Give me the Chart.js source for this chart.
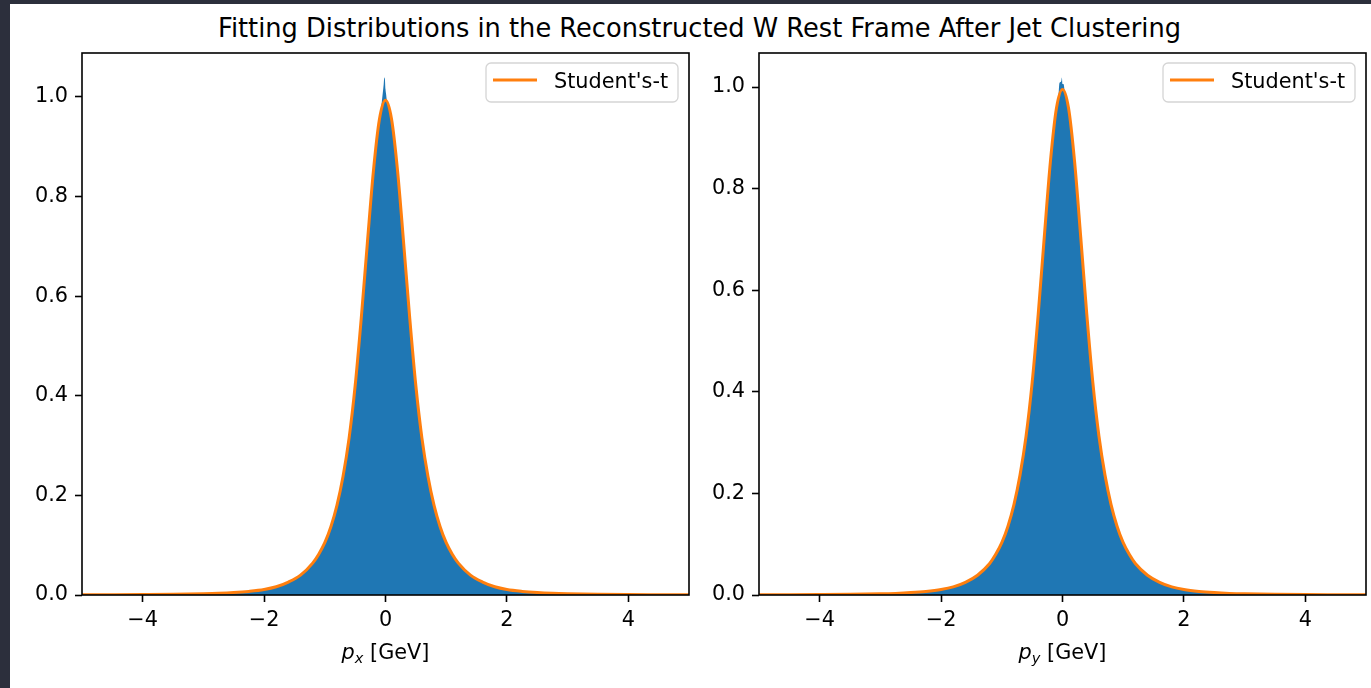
<!DOCTYPE html>
<html><head><meta charset="utf-8">
<script src="https://cdn.jsdelivr.net/npm/chart.js@4/dist/chart.umd.min.js"></script>
<style>
html,body{margin:0;padding:0;background:#fff;width:1371px;height:688px;overflow:hidden;font-family:'DejaVu Sans',sans-serif;}
.frame-l{position:absolute;left:0;top:0;width:10px;height:688px;background:#2c2f3c;z-index:5}
.frame-t{position:absolute;left:0;top:0;width:1371px;height:4px;background:#2c2f3c;z-index:5}
canvas{position:absolute;top:0}
#title{position:absolute;left:199.5px;width:1000px;top:16px;text-align:center;font-size:25.7px;line-height:25.7px;color:#000;white-space:nowrap}
.xlab{position:absolute;top:642px;width:300px;text-align:center;font-size:20.8px;line-height:20.8px;color:#000;white-space:nowrap}
.xlab i{font-style:italic}
.xlab sub{font-size:70%;font-style:italic;vertical-align:-0.3em;line-height:0}
</style></head><body>
<div class="frame-l"></div><div class="frame-t"></div>
<div id="title">Fitting Distributions in the Reconstructed W Rest Frame After Jet Clustering</div>
<canvas id="c1" width="700" height="688" style="left:0px"></canvas>
<canvas id="c2" width="681" height="688" style="left:690px"></canvas>
<div class="xlab" style="left:235.5px"><i>p</i><sub>x</sub> [GeV]</div>
<div class="xlab" style="left:912.5px"><i>p</i><sub>y</sub> [GeV]</div>
<script>
// ---- data ----
const xTicks = [-4, -2, 0, 2, 4];
const yTicks = [0, 0.2, 0.4, 0.6, 0.8, 1.0];
const fitLabel = "Student's-t";

const histX = [-5, -4.5, -4, -3.5, -3, -2.5, -2, -1.8, -1.6, -1.4, -1.2, -1.1, -1.0, -0.9, -0.8, -0.7, -0.6, -0.5, -0.4, -0.3, -0.2, -0.1,
  -0.07, -0.05, -0.03, -0.02, -0.01, 0, 0.01, 0.02, 0.04, 0.07,
  0.1, 0.2, 0.3, 0.4, 0.5, 0.6, 0.7, 0.8, 0.9, 1.0, 1.1, 1.2, 1.4, 1.6, 1.8, 2, 2.5, 3, 3.5, 4, 4.5, 5];
const histPx = [0.0003, 0.0004, 0.0007, 0.0012, 0.0023, 0.0046, 0.0105, 0.016, 0.025, 0.039, 0.063, 0.081, 0.104, 0.136, 0.179, 0.237, 0.313, 0.418, 0.553, 0.703, 0.848, 0.958,
  0.980, 1.002, 1.025, 1.039, 1.036, 1.015, 1.005, 0.995, 0.988, 0.975,
  0.953, 0.848, 0.703, 0.553, 0.418, 0.313, 0.237, 0.179, 0.136, 0.104, 0.081, 0.063, 0.039, 0.025, 0.016, 0.0105, 0.0046, 0.0023, 0.0012, 0.0007, 0.0004, 0.0003];
const histPy = [0.0003, 0.0004, 0.0007, 0.0012, 0.0023, 0.0045, 0.0103, 0.016, 0.025, 0.038, 0.062, 0.080, 0.103, 0.135, 0.178, 0.236, 0.312, 0.417, 0.552, 0.704, 0.851, 0.962,
  0.978, 1.008, 1.010, 1.012, 1.019, 1.006, 1.006, 1.005, 0.988, 0.975,
  0.956, 0.851, 0.704, 0.552, 0.417, 0.312, 0.236, 0.178, 0.135, 0.103, 0.080, 0.062, 0.038, 0.025, 0.016, 0.0103, 0.0045, 0.0023, 0.0012, 0.0007, 0.0004, 0.0003];

const fitX = [-5, -4.5, -4, -3.5, -3, -2.75, -2.5, -2.25, -2, -1.8, -1.6, -1.4, -1.2, -1.1, -1, -0.9, -0.8, -0.7, -0.6, -0.5, -0.4, -0.3, -0.2, -0.1, 0,
  0.1, 0.2, 0.3, 0.4, 0.5, 0.6, 0.7, 0.8, 0.9, 1, 1.1, 1.2, 1.4, 1.6, 1.8, 2, 2.25, 2.5, 2.75, 3, 3.5, 4, 4.5, 5];
const fitPx = [0.0003, 0.0005, 0.0008, 0.0013, 0.0024, 0.0033, 0.0048, 0.0072, 0.011, 0.0165, 0.026, 0.040, 0.064, 0.082, 0.105, 0.137, 0.180, 0.238, 0.315, 0.420, 0.555, 0.705, 0.850, 0.955, 0.993,
  0.955, 0.850, 0.705, 0.555, 0.420, 0.315, 0.238, 0.180, 0.137, 0.105, 0.082, 0.064, 0.040, 0.026, 0.0165, 0.011, 0.0072, 0.0048, 0.0033, 0.0024, 0.0013, 0.0008, 0.0005, 0.0003];
const fitPy = [0.0003, 0.0005, 0.0008, 0.0013, 0.0023, 0.0032, 0.0047, 0.0070, 0.0108, 0.016, 0.025, 0.039, 0.062, 0.080, 0.103, 0.135, 0.178, 0.236, 0.313, 0.418, 0.553, 0.705, 0.852, 0.958, 0.995,
  0.958, 0.852, 0.705, 0.553, 0.418, 0.313, 0.236, 0.178, 0.135, 0.103, 0.080, 0.062, 0.039, 0.025, 0.016, 0.0108, 0.0070, 0.0047, 0.0032, 0.0023, 0.0013, 0.0008, 0.0005, 0.0003];

// ---- rendering ----
const FONT = {family: 'DejaVu Sans', size: 20.8};
const pairs = (xs, ys) => xs.map((x, i) => ({x: x, y: ys[i]}));
const fmtX = v => (v < 0 ? '\u2212' + Math.abs(v) : String(v));

const mplPlugin = {
  id: 'mplFrame',
  afterDraw(chart) {
    const {ctx, chartArea: a} = chart;
    ctx.save();
    ctx.strokeStyle = '#000';
    ctx.lineWidth = 1.6;
    ctx.strokeRect(a.left, a.top, a.right - a.left, a.bottom - a.top);
    // legend
    const w = 192, h = 39;
    const x0 = a.right - 11 - w, y0 = a.top + 10;
    const r = 5;
    ctx.beginPath();
    ctx.moveTo(x0 + r, y0);
    ctx.arcTo(x0 + w, y0, x0 + w, y0 + h, r);
    ctx.arcTo(x0 + w, y0 + h, x0, y0 + h, r);
    ctx.arcTo(x0, y0 + h, x0, y0, r);
    ctx.arcTo(x0, y0, x0 + w, y0, r);
    ctx.closePath();
    ctx.fillStyle = 'rgba(255,255,255,0.8)';
    ctx.fill();
    ctx.strokeStyle = '#d5d5d5';
    ctx.lineWidth = 1.3;
    ctx.stroke();
    const ds = chart.data.datasets[0];
    ctx.strokeStyle = ds.borderColor;
    ctx.lineWidth = 3;
    ctx.beginPath();
    ctx.moveTo(x0 + 7, y0 + 17);
    ctx.lineTo(x0 + 51, y0 + 17);
    ctx.stroke();
    ctx.fillStyle = '#000';
    ctx.font = '20.8px "DejaVu Sans"';
    ctx.textBaseline = 'alphabetic';
    ctx.textAlign = 'left';
    ctx.fillText(ds.label, x0 + 68, y0 + 25);
    ctx.restore();
  }
};

function makeChart(id, histVals, fitVals, yMax, yAxisWidth, rightPad) {
  return new Chart(document.getElementById(id), {
    type: 'line',
    data: {
      datasets: [
        {label: fitLabel, data: pairs(fitX, fitVals), borderColor: '#ff7f0e', borderWidth: 3,
         pointRadius: 0, fill: false, cubicInterpolationMode: 'monotone', order: 0},
        {label: 'hist', data: pairs(histX, histVals), borderColor: 'rgba(0,0,0,0)', borderWidth: 0,
         backgroundColor: '#1f77b4', pointRadius: 0, fill: 'origin', cubicInterpolationMode: 'monotone', order: 1}
      ]
    },
    options: {
      responsive: false, animation: false, devicePixelRatio: 1,
      layout: {padding: {left: 0, right: rightPad, top: 53, bottom: 0}},
      plugins: {legend: {display: false}, tooltip: {enabled: false}, title: {display: false}},
      scales: {
        x: {
          type: 'linear', min: -5, max: 5,
          afterBuildTicks: s => { s.ticks = xTicks.map(v => ({value: v})); },
          afterFit: s => { s.height = 93; },
          grid: {display: true, drawOnChartArea: false, drawTicks: true, tickLength: 7, tickWidth: 1.6, tickColor: '#000'},
          border: {display: false},
          ticks: {color: '#000', font: FONT, padding: 6, maxRotation: 0, autoSkip: false, callback: v => fmtX(v)}
        },
        y: {
          type: 'linear', min: 0, max: yMax,
          afterBuildTicks: s => { s.ticks = yTicks.map(v => ({value: v})); },
          afterFit: s => { s.width = yAxisWidth; },
          grid: {display: true, drawOnChartArea: false, drawTicks: true, tickLength: 7, tickWidth: 1.6, tickColor: '#000'},
          border: {display: false},
          ticks: {color: '#000', font: FONT, padding: 7, autoSkip: false, callback: v => Number(v).toFixed(1)}
        }
      }
    },
    plugins: [mplPlugin]
  });
}

makeChart('c1', histPx, fitPx, 1.088, 82, 11);
makeChart('c2', histPy, fitPy, 1.067, 69, 5);
</script>
</body></html>
